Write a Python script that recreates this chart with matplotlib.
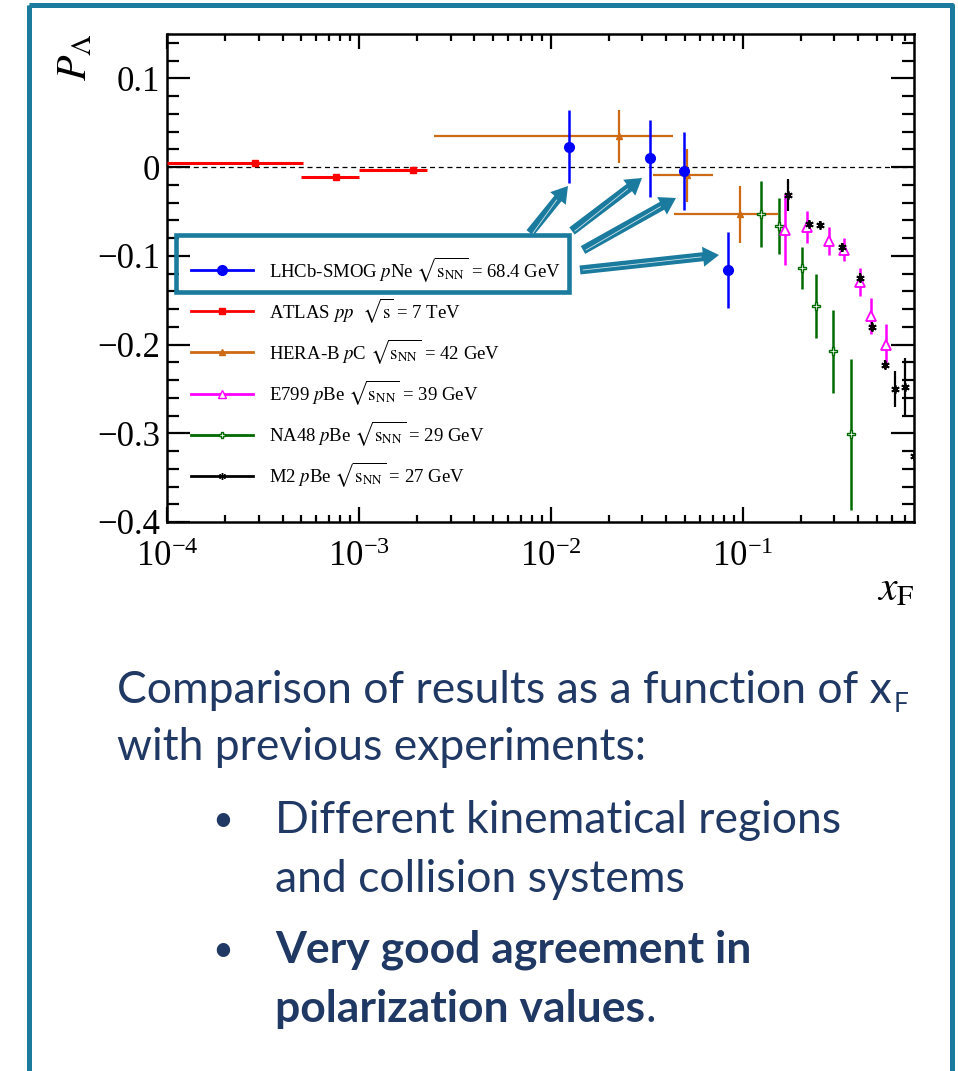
"""Lambda polarisation versus x_F: LHCb-SMOG pNe compared with earlier measurements."""
import matplotlib
matplotlib.use("Agg")
import matplotlib.pyplot as plt
from matplotlib.lines import Line2D
from matplotlib.patches import FancyArrow, Rectangle
from matplotlib.ticker import FuncFormatter, LogLocator, MultipleLocator, NullFormatter

plt.rcParams["font.family"] = ["Liberation Serif", "DejaVu Serif"]
plt.rcParams["mathtext.fontset"] = "stix"

# ---- measurements -------------------------------------------------------
lhcb_x = [0.01245, 0.033, 0.0494, 0.0842]
lhcb_p = [0.0229, 0.0098, -0.0045, -0.116]
lhcb_err = [0.041, 0.043, 0.044, 0.043]

atlas_x = [2.87e-4, 7.57e-4, 1.92e-3]
atlas_p = [0.0045, -0.0113, -0.0037]
atlas_xlo = [1.0e-4, 5.0e-4, 1.0e-3]
atlas_xhi = [5.1e-4, 1.0e-3, 2.25e-3]

herab_x = [0.0226, 0.0515, 0.0964]
herab_p = [0.0346, -0.0094, -0.0533]
herab_xlo = [2.46e-3, 0.0341, 0.0438]
herab_xhi = [0.0434, 0.070, 0.1528]
herab_err = [0.030, 0.030, 0.032]

e799_x = [0.1667, 0.2163, 0.2805, 0.3358, 0.4064, 0.4645, 0.56]
e799_p = [-0.0706, -0.0676, -0.0834, -0.0931, -0.1297, -0.168, -0.200]
e799_err = [0.040, 0.018, 0.016, 0.013, 0.016, 0.020, 0.023]

na48_x = [0.125, 0.1535, 0.2024, 0.241, 0.2965, 0.365]
na48_p = [-0.0525, -0.0665, -0.1139, -0.157, -0.2078, -0.301]
na48_err = [0.037, 0.032, 0.024, 0.036, 0.047, 0.085]

m2_x = [0.173, 0.2214, 0.2518, 0.330, 0.410, 0.4737, 0.551, 0.621, 0.7036, 0.78]
m2_p = [-0.0311, -0.0638, -0.065, -0.0902, -0.1247, -0.180, -0.2228, -0.2499, -0.248, -0.326]
m2_err = [0.018, 0.004, 0.004, 0.005, 0.005, 0.005, 0.005, 0.020, 0.033, 0.0]

legend_labels = [
    r"LHCb-SMOG $p$Ne $\sqrt{\mathrm{s}_{\rm NN}}$ = 68.4 GeV",
    r"ATLAS $pp$  $\sqrt{\mathrm{s}}$ = 7 TeV",
    r"HERA-B $p$C $\sqrt{\mathrm{s}_{\rm NN}}$ = 42 GeV",
    r"E799 $p$Be $\sqrt{\mathrm{s}_{\rm NN}}$ = 39 GeV",
    r"NA48 $p$Be $\sqrt{\mathrm{s}_{\rm NN}}$ = 29 GeV",
    r"M2 $p$Be $\sqrt{\mathrm{s}_{\rm NN}}$ = 27 GeV",
]

TEAL = "#1A7B9E"
NAVY = "#203864"
ORANGE = "#CF6A14"
GREEN = "#006A00"
ASTERISK = (6, 2, 0)

W, H = 958, 1071
fig = plt.figure(figsize=(W / 100, H / 100), dpi=100)
ax = fig.add_axes([167 / W, 1 - 522 / H, 747 / W, 488 / H])

ax.axhline(0, color="black", lw=0.9, ls=(0, (4, 3)), zorder=1)


def xerr_from(x, lo, hi):
    return [[c - a for c, a in zip(x, lo)], [b - c for c, b in zip(x, hi)]]


ax.errorbar(atlas_x, atlas_p, xerr=xerr_from(atlas_x, atlas_xlo, atlas_xhi),
            fmt="s", color="#FF0000", ms=5, elinewidth=2.2, capsize=0, zorder=3)
ax.errorbar(herab_x, herab_p, yerr=herab_err,
            xerr=xerr_from(herab_x, herab_xlo, herab_xhi),
            fmt="^", color=ORANGE, ms=4, elinewidth=1.6, capsize=0, zorder=3)
ax.errorbar(na48_x, na48_p, yerr=na48_err, fmt="P", color=GREEN, mfc="white",
            mec=GREEN, ms=6, elinewidth=1.8, capsize=0, zorder=3)
ax.errorbar(e799_x, e799_p, yerr=e799_err, fmt="^", color="#FF00FF", mfc="white",
            mec="#FF00FF", ms=7, mew=1.3, elinewidth=1.8, capsize=0, zorder=3)
ax.errorbar(m2_x, m2_p, yerr=m2_err, fmt="none", ecolor="black", elinewidth=1.6,
            capsize=0, zorder=4)
ax.plot(m2_x, m2_p, ls="none", marker=ASTERISK, color="black", ms=6, mew=1.3, zorder=5)
ax.errorbar(lhcb_x, lhcb_p, yerr=lhcb_err, fmt="o", color="#0000FF", ms=7,
            elinewidth=1.8, capsize=0, zorder=6)

ax.set_xscale("log")
ax.set_xlim(1e-4, 0.78)
ax.set_ylim(-0.4, 0.15)

ax.yaxis.set_major_locator(MultipleLocator(0.1))
ax.yaxis.set_minor_locator(MultipleLocator(0.02))
ax.yaxis.set_major_formatter(FuncFormatter(
    lambda v, _: "0" if abs(v) < 1e-9 else f"{v:.1f}".replace("-", "\u2212")))
ax.xaxis.set_major_locator(LogLocator(base=10))
ax.xaxis.set_minor_locator(LogLocator(base=10, subs=range(2, 10)))
ax.xaxis.set_minor_formatter(NullFormatter())

ax.tick_params(which="both", direction="in", top=True, right=True, width=1.6,
               labelsize=25)
ax.tick_params(axis="y", which="major", length=16.5, pad=5)
ax.tick_params(axis="y", which="minor", length=8.6)
ax.tick_params(axis="x", which="major", length=10.8, pad=14)
ax.tick_params(axis="x", which="minor", length=5.2)
for spine in ax.spines.values():
    spine.set_linewidth(1.8)

ax.set_ylabel(r"$P_{\mathit{\Lambda}}$", fontsize=30, loc="top")
ax.yaxis.set_label_coords(-0.096, 1.0)
ax.set_xlabel(r"$x_{\rm F}$", fontsize=30, loc="right")
ax.xaxis.set_label_coords(1.0, -0.1)

handles = [
    Line2D([], [], color="#0000FF", lw=2, marker="o", ms=7),
    Line2D([], [], color="#FF0000", lw=2, marker="s", ms=5),
    Line2D([], [], color=ORANGE, lw=2, marker="^", ms=4),
    Line2D([], [], color="#FF00FF", lw=2, marker="^", ms=6, mfc="white"),
    Line2D([], [], color=GREEN, lw=2, marker="P", ms=5, mfc="white"),
    Line2D([], [], color="black", lw=2, marker=ASTERISK, ms=5, mew=1),
]
ax.legend(handles, legend_labels, loc="upper left", bbox_to_anchor=(0.032, 0.548),
          frameon=False, fontsize=13.5, handlelength=3.3, handletextpad=0.85,
          labelspacing=0.65, borderpad=0, borderaxespad=0)

# ---- slide overlay: frame, call-out box, arrows and text (pixel units) ----
ov = fig.add_axes([0, 0, 1, 1], facecolor="none", zorder=10)
ov.set_xlim(0, W)
ov.set_ylim(H, 0)
ov.axis("off")

ov.add_patch(Rectangle((29, 5), 923, H + 40, fill=False, ec=TEAL, lw=3.6,
                       joinstyle="round"))
ov.add_patch(Rectangle((176, 235), 393, 57, fill=False, ec=TEAL, lw=3.3))

arrows = [((530, 233), (568, 186)), ((572, 231), (642, 178)),
          ((583, 250), (676, 198)), ((580, 270), (719, 255))]
for (x0, y0), (x1, y1) in arrows:
    dx, dy = x1 - x0, y1 - y0
    ov.add_patch(FancyArrow(x0, y0, dx, dy, width=9, head_width=20, head_length=16,
                            length_includes_head=True, fc=TEAL, ec=TEAL, lw=0))
    frac = 1 - 18 / (dx * dx + dy * dy) ** 0.5
    ov.plot([x0 + 3 * dx / abs(dx), x0 + dx * frac], [y0, y0 + dy * frac],
            color="white", lw=0.6, alpha=0.8)

body = dict(family=["Lato", "DejaVu Sans"], color=NAVY, fontsize=32, va="baseline")
line1 = ov.text(117, 703, "Comparison of results as a function of x", **body)
ov.annotate("F", xy=(1.0, 712), xycoords=(line1, "data"), xytext=(1, 0),
            textcoords="offset points", family=["Lato", "DejaVu Sans"],
            color=NAVY, fontsize=19, va="baseline")
ov.text(117, 760, "with previous experiments:", **body)

bullet = dict(body, fontsize=26)
ov.text(212, 831, "\u2022", **bullet)
ov.text(275, 833, "Different kinematical regions", **body)
ov.text(275, 892, "and collision systems", **body)
ov.text(212, 961, "\u2022", **bullet)
ov.text(275, 963, "Very good agreement in", fontweight="bold", **body)
bold_end = ov.text(275, 1022, "polarization values", fontweight="bold", **body)
ov.annotate(".", xy=(1.0, 1022), xycoords=(bold_end, "data"),
            family=["Lato", "DejaVu Sans"], color=NAVY, fontsize=32, va="baseline")

fig.savefig("out.png", dpi=100)
